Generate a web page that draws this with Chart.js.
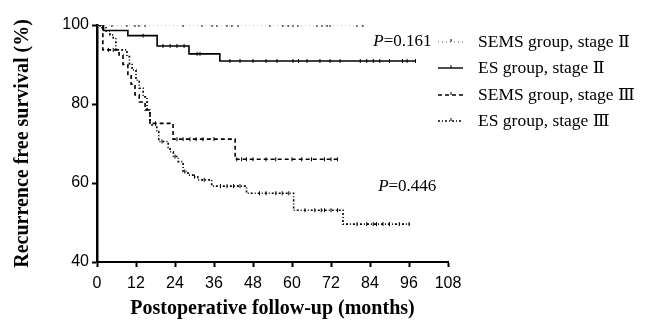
<!DOCTYPE html>
<html>
<head>
<meta charset="utf-8">
<script src="https://cdn.jsdelivr.net/npm/chart.js@4"></script>
<style>
  html, body { margin: 0; padding: 0; background: #fff; }
  #wrap { width: 645px; height: 330px; }
</style>
</head>
<body>
<div id="wrap"><canvas id="km"></canvas></div>
<script>
// Kaplan-Meier steps: time of event (months) and survival (%) after it
const semsIITimes = [0, 82];
const semsIIValues = [100, 100];
const semsIICensor = [4.6, 9.2, 11.7, 12.9, 14.8, 26.5, 32.3, 35.4, 36.9, 40, 41.5, 43.4, 53.2, 57.2, 58.8, 60.3, 61.8, 67.7, 69.2, 70.8, 71.7, 80, 81.8];

const esIITimes = [0, 2, 9.5, 18.5, 28.3, 37.8, 98];
const esIIValues = [100, 98.6, 97.3, 94.7, 92.7, 90.9, 90.9];
const esIICensor = [14.2, 20.3, 22.5, 24.6, 26.8, 30.8, 31.7, 40.9, 44, 48, 52, 55.4, 60.3, 62, 64.6, 68.6, 71.7, 74.8, 81, 83, 85, 87, 90, 94, 95.4, 98];

const semsIIITimes = [0, 1.8, 6.8, 8, 9.5, 10.5, 11.7, 13, 14.8, 16.3, 23.4, 42.5, 74];
const semsIIIValues = [100, 93.7, 92.4, 90, 87.5, 85, 82.3, 80.5, 78.5, 75.1, 71.1, 66.0, 66.0];
const semsIIICensor = [3.5, 5, 18, 24.6, 26.5, 28.6, 30.5, 32.6, 36, 43, 44.5, 46, 48, 52, 55, 60, 63, 66, 70, 72, 74];

const esIIITimes = [0, 1, 2.8, 4, 5, 5.8, 9.2, 10, 10.8, 12, 13, 14.2, 15.4, 16.3, 18.4, 19, 21.9, 22.5, 23.5, 25, 26.5, 28, 29.6, 31, 35.3, 46, 60.5, 75.7, 96.3];
const esIIIValues = [100, 99.3, 98.5, 97.5, 96.7, 93.7, 92, 90, 88.6, 86, 84, 81.8, 78.5, 74.7, 73.0, 70.5, 69, 67.9, 66.7, 65.4, 62.9, 62, 61.6, 60.8, 59.2, 57.4, 53.1, 49.6, 49.6];
const esIIICensor = [20, 24, 27, 30, 33, 38, 40, 42, 44, 50, 52, 55, 57, 59, 64, 67, 69, 70, 72, 74, 80, 83, 85, 86, 88, 90, 93, 96];

const xTicks = [0, 12, 24, 36, 48, 60, 72, 84, 96, 108];
const yTicks = [40, 60, 80, 100];

const seriesNames = ['SEMS group, stage \u2161', 'ES group, stage \u2161', 'SEMS group, stage \u2162', 'ES group, stage \u2162'];
const dashes = [[1, 3], [], [4, 3], [2, 2, 1, 2]];

function steps(times, values) {
  return times.map((t, i) => ({ x: t, y: values[i] }));
}
function survAt(times, values, t) {
  let v = values[0];
  for (let i = 0; i < times.length; i++) if (times[i] <= t) v = values[i];
  return v;
}
function censor(times, values, cens) {
  return cens.map(t => ({ x: t, y: survAt(times, values, t) }));
}

const groups = [
  [semsIITimes, semsIIValues, semsIICensor],
  [esIITimes, esIIValues, esIICensor],
  [semsIIITimes, semsIIIValues, semsIIICensor],
  [esIIITimes, esIIIValues, esIIICensor]
];

const datasets = [];
groups.forEach((g, i) => {
  datasets.push({
    label: seriesNames[i],
    data: steps(g[0], g[1]),
    stepped: 'before',
    borderColor: i === 0 ? '#888' : '#000',
    borderWidth: i === 0 ? 1 : 1.6,
    borderDash: dashes[i],
    pointRadius: 0,
    fill: false
  });
  datasets.push({
    label: seriesNames[i] + ' censored',
    type: 'scatter',
    data: censor(g[0], g[1], g[2]),
    pointStyle: 'line',
    rotation: 90,
    pointRadius: 2,
    borderColor: '#000',
    borderWidth: 1,
    showLine: false
  });
});

const serif = '"Liberation Serif", "Times New Roman", "DejaVu Serif", serif';

const extras = {
  id: 'extras',
  afterDraw(chart) {
    const ctx = chart.ctx;
    const xs = chart.scales.x, ys = chart.scales.y;
    ctx.save();
    ctx.fillStyle = '#000';
    ctx.textBaseline = 'middle';
    // P values
    [[85, 95.7, '0.161'], [86.5, 59.2, '0.446']].forEach(p => {
      const px = xs.getPixelForValue(p[0]), py = ys.getPixelForValue(p[1]);
      ctx.font = 'italic 17px ' + serif;
      ctx.textAlign = 'left';
      ctx.fillText('P', px, py);
      const w = ctx.measureText('P').width;
      ctx.font = '17px ' + serif;
      ctx.fillText('=' + p[2], px + w, py);
    });
    // legend
    const rows = [42, 68, 95, 121];
    seriesNames.forEach((name, i) => {
      ctx.strokeStyle = i === 0 ? '#666' : '#000';
      ctx.lineWidth = i === 0 ? 1 : 1.4;
      ctx.setLineDash(dashes[i]);
      ctx.beginPath();
      ctx.moveTo(438, rows[i]);
      ctx.lineTo(463, rows[i]);
      ctx.stroke();
      ctx.setLineDash([]);
      ctx.strokeStyle = '#000';
      ctx.lineWidth = 1;
      ctx.beginPath();
      ctx.moveTo(451, rows[i]);
      ctx.lineTo(451, rows[i] - 3);
      ctx.stroke();
      ctx.font = '17.5px ' + serif;
      ctx.textAlign = 'left';
      ctx.fillText(name, 478, rows[i]);
    });
    ctx.restore();
  }
};

new Chart(document.getElementById('km'), {
  type: 'line',
  data: { datasets },
  options: {
    responsive: true,
    maintainAspectRatio: false,
    animation: false,
    layout: { padding: { left: 9, right: 197, top: 25, bottom: 5 } },
    plugins: { legend: { display: false }, tooltip: { enabled: false } },
    scales: {
      x: {
        type: 'linear',
        min: 0,
        max: 108,
        afterFit(scale) { scale.height = 63; },
        afterBuildTicks(scale) { scale.ticks = xTicks.map(v => ({ value: v })); },
        ticks: { color: '#000', padding: 7, font: { family: '"Liberation Sans", Arial, sans-serif', size: 16 } },
        grid: { drawOnChartArea: false, drawTicks: true, tickLength: 5, tickWidth: 2, tickColor: '#000' },
        border: { display: true, color: '#000', width: 2 },
        title: { display: true, text: 'Postoperative follow-up (months)', color: '#000', padding: { top: 4, bottom: 4 }, font: { family: serif, size: 20, weight: 'bold' } }
      },
      y: {
        min: 40,
        max: 100,
        afterFit(scale) { scale.width = 88; },
        afterBuildTicks(scale) { scale.ticks = yTicks.map(v => ({ value: v })); },
        ticks: { color: '#000', padding: 3, font: { family: '"Liberation Sans", Arial, sans-serif', size: 16 } },
        grid: { drawOnChartArea: false, drawTicks: true, tickLength: 5, tickWidth: 2, tickColor: '#000' },
        border: { display: true, color: '#000', width: 2.5 },
        title: { display: true, text: 'Recurrence free survival (%)', color: '#000', padding: { top: 2, bottom: 4 }, font: { family: serif, size: 20, weight: 'bold' } }
      }
    }
  },
  plugins: [extras]
});
</script>
</body>
</html>
